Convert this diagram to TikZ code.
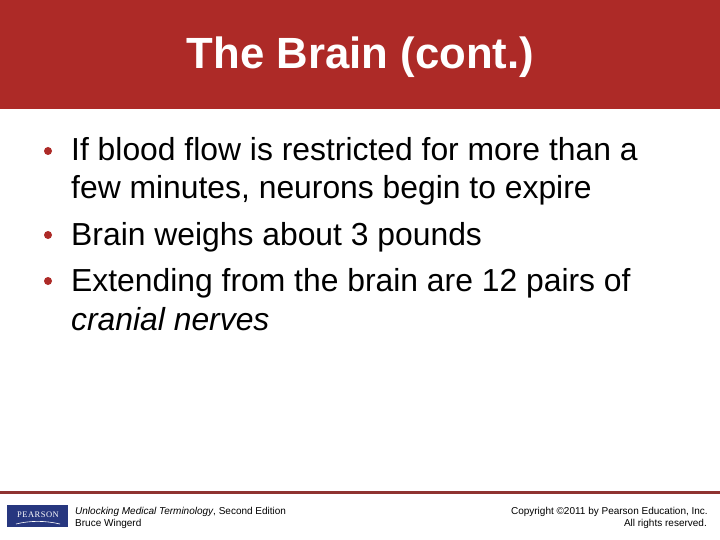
\documentclass[tikz,border=0pt]{standalone}
\usepackage{fontspec}
\setmainfont{Liberation Sans}
\newfontfamily\logofont[LetterSpace=6]{Liberation Serif}
\definecolor{banner}{HTML}{AD2A27}
\definecolor{rulec}{HTML}{8F3331}
\definecolor{pearson}{HTML}{27377F}
\tikzset{
  bodytext/.style={anchor=base west,inner sep=0pt,font=\fontsize{31.85}{38}\selectfont,text=black},
  bulletdot/.style={circle,fill=banner,inner sep=0pt,minimum size=8pt},
  foot/.style={inner sep=0pt,font=\fontsize{10}{12}\selectfont,text=black}
}
\begin{document}
\begin{tikzpicture}[x=1pt,y=-1pt]
\useasboundingbox (0,0) rectangle (720,540);
\fill[white] (0,0) rectangle (720,540);
\fill[banner] (0,0) rectangle (720,109);
\node[anchor=base,inner sep=0pt,text=white,font=\fontsize{43.7}{50}\selectfont\bfseries] (title) at (360.5,69) {The Brain (cont.)};
\node[bulletdot] (b1) at (48,151) {};
\node[bulletdot] (b2) at (48,235) {};
\node[bulletdot] (b3) at (48,281) {};
\node[bodytext] (l1) at (71,161) {If blood flow is restricted for more than a};
\node[bodytext] (l2) at (71,199) {few minutes, neurons begin to expire};
\node[bodytext] (l3) at (71,245) {Brain weighs about 3 pounds};
\node[bodytext] (l4) at (71,291) {Extending from the brain are 12 pairs of};
\node[bodytext] (l5) at (71,330) {\itshape cranial nerves};
\fill[rulec] (0,491) rectangle (720,494);
\fill[pearson] (7,505) rectangle (68,527);
\node[inner sep=0pt,text=white,font=\logofont\fontsize{8.5}{10}\selectfont] (logo) at (38,515) {PEARSON};
\draw[white,line width=0.6pt] (16,524) .. controls (30,520.5) and (45,520.5) .. (60,524);
\node[foot,anchor=base west] (f1) at (75,514) {\textit{Unlocking Medical Terminology}, Second Edition};
\node[foot,anchor=base west] (f2) at (75,526) {Bruce Wingerd};
\node[foot,anchor=base east] (f3) at (708,514) {Copyright ©2011 by Pearson Education, Inc.};
\node[foot,anchor=base east] (f4) at (707,526) {All rights reserved.};
\end{tikzpicture}
\end{document}
